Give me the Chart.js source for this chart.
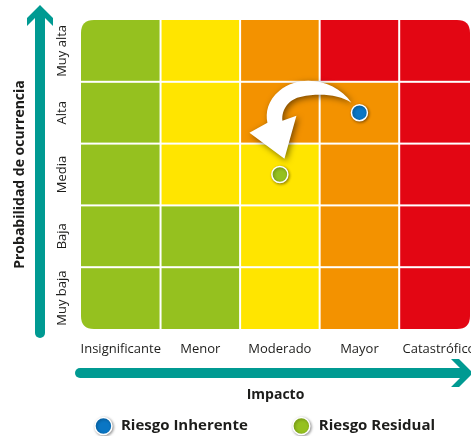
<!DOCTYPE html>
<html lang="es">
<head>
<meta charset="utf-8">
<title>Matriz de riesgo</title>
<script src="https://cdn.jsdelivr.net/npm/chart.js@4.4.1/dist/chart.umd.min.js"></script>
<style>
  html, body { margin: 0; padding: 0; background: #fff; }
  canvas { display: block; }
</style>
</head>
<body>
<canvas id="riskChart" width="471" height="436"></canvas>
<script>
// ============================
// Datos
// ============================
const impactLabels = ["Insignificante", "Menor", "Moderado", "Mayor", "Catastrófico"];
const probLabels = ["Muy baja", "Baja", "Media", "Alta", "Muy alta"];

// nivel de cada celda, filas de abajo (Muy baja) hacia arriba (Muy alta)
const levelRows = [
    [0, 0, 1, 2, 3],
    [0, 0, 1, 2, 3],
    [0, 1, 1, 2, 3],
    [0, 1, 2, 2, 3],
    [0, 1, 2, 3, 3]
];

const inherentRisk = [{ x: 3.5, y: 3.5 }];
const residualRisk = [{ x: 2.5, y: 2.5 }];

// ============================
// Estilos
// ============================
const levelColors = ["#95c11f", "#ffe500", "#f39200", "#e30613"];
const blue = "#0a76c4";
const green = "#95c11f";
const teal = "#009a92";
const textColor = "#1d1d1b";

Chart.defaults.font.family = "'Open Sans', sans-serif";
Chart.defaults.color = textColor;

// ============================
// Plugin: celdas, flechas y leyenda
// ============================
function roundRectPath(ctx, x, y, w, h, r) {
    ctx.beginPath();
    ctx.moveTo(x + r, y);
    ctx.lineTo(x + w - r, y);
    ctx.quadraticCurveTo(x + w, y, x + w, y + r);
    ctx.lineTo(x + w, y + h - r);
    ctx.quadraticCurveTo(x + w, y + h, x + w - r, y + h);
    ctx.lineTo(x + r, y + h);
    ctx.quadraticCurveTo(x, y + h, x, y + h - r);
    ctx.lineTo(x, y + r);
    ctx.quadraticCurveTo(x, y, x + r, y);
    ctx.closePath();
}

const riskMatrix = {
    id: "riskMatrix",
    beforeDatasetsDraw(chart) {
        const { ctx, chartArea: ca, scales: { x, y } } = chart;
        const gap = 1;

        // celdas dentro de un rectángulo redondeado
        ctx.save();
        roundRectPath(ctx, ca.left, ca.top, ca.right - ca.left, ca.bottom - ca.top, 13);
        ctx.clip();
        levelRows.forEach((row, r) => {
            row.forEach((level, c) => {
                const x0 = x.getPixelForValue(c) + (c > 0 ? gap : 0);
                const x1 = x.getPixelForValue(c + 1) - gap;
                const y0 = y.getPixelForValue(r + 1) + (r < 4 ? gap : 0);
                const y1 = y.getPixelForValue(r) - (r > 0 ? gap : 0);
                ctx.fillStyle = levelColors[level];
                ctx.fillRect(x0, y0, x1 - x0, y1 - y0);
            });
        });
        ctx.restore();

        // flecha blanca curva de inherente a residual
        const b = chart.getDatasetMeta(0).data[0];
        const p = (dx, dy) => [b.x + dx, b.y + dy];
        ctx.save();
        ctx.shadowColor = "rgba(0,0,0,0.5)";
        ctx.shadowBlur = 6;
        ctx.shadowOffsetX = 2;
        ctx.shadowOffsetY = 2;
        ctx.fillStyle = "#ffffff";
        ctx.beginPath();
        ctx.moveTo(...p(-8, -10));
        ctx.bezierCurveTo(...p(-23, -32), ...p(-58, -40), ...p(-80, -22));
        ctx.bezierCurveTo(...p(-92, -12), ...p(-94, 0), ...p(-92, 10));
        ctx.lineTo(...p(-110, 20));
        ctx.lineTo(...p(-75, 46));
        ctx.lineTo(...p(-63, 3));
        ctx.lineTo(...p(-77, 8));
        ctx.bezierCurveTo(...p(-78, -4), ...p(-70, -14), ...p(-58, -16));
        ctx.bezierCurveTo(...p(-40, -20), ...p(-20, -18), ...p(-8, -10));
        ctx.closePath();
        ctx.fill();
        ctx.restore();
    },
    beforeDatasetDraw(chart) {
        const ctx = chart.ctx;
        ctx.save();
        ctx.shadowColor = "rgba(0,0,0,0.4)";
        ctx.shadowBlur = 3;
        ctx.shadowOffsetX = 1;
        ctx.shadowOffsetY = 1;
    },
    afterDatasetDraw(chart) {
        chart.ctx.restore();
    },
    afterDraw(chart) {
        const { ctx, chartArea: ca } = chart;

        // ejes con flecha
        ctx.save();
        ctx.fillStyle = teal;
        ctx.strokeStyle = teal;
        ctx.lineCap = "round";
        ctx.lineWidth = 10;

        const vx = ca.left - 41;
        ctx.beginPath();
        ctx.moveTo(vx, ca.bottom + 4);
        ctx.lineTo(vx, ca.top);
        ctx.stroke();
        ctx.beginPath();
        ctx.moveTo(vx, ca.top - 15);
        ctx.lineTo(vx + 13, ca.top - 2);
        ctx.lineTo(vx + 13, ca.top + 6);
        ctx.lineTo(vx + 5, ca.top - 2);
        ctx.lineTo(vx + 5, ca.top + 4);
        ctx.lineTo(vx - 5, ca.top + 4);
        ctx.lineTo(vx - 5, ca.top - 2);
        ctx.lineTo(vx - 13, ca.top + 6);
        ctx.lineTo(vx - 13, ca.top - 2);
        ctx.closePath();
        ctx.fill();

        const hy = ca.bottom + 44;
        const tipX = ca.right + 3;
        ctx.beginPath();
        ctx.moveTo(ca.left - 1, hy);
        ctx.lineTo(tipX - 10, hy);
        ctx.stroke();
        ctx.beginPath();
        ctx.moveTo(tipX, hy);
        ctx.lineTo(tipX - 14, hy - 14);
        ctx.lineTo(tipX - 22, hy - 14);
        ctx.lineTo(tipX - 13, hy - 5);
        ctx.lineTo(tipX - 16, hy - 5);
        ctx.lineTo(tipX - 16, hy + 5);
        ctx.lineTo(tipX - 13, hy + 5);
        ctx.lineTo(tipX - 22, hy + 14);
        ctx.lineTo(tipX - 14, hy + 14);
        ctx.closePath();
        ctx.fill();
        ctx.restore();

        // leyenda
        const items = chart.data.datasets.map(ds => ({ text: ds.label, color: ds.backgroundColor }));
        const ly = chart.height - 10;
        const r = 8.5;
        const itemGap = 45;
        ctx.save();
        ctx.font = "bold 15px 'Open Sans', sans-serif";
        const widths = items.map(it => 2 * r + 9 + ctx.measureText(it.text).width);
        const total = widths.reduce((a, w) => a + w, 0) + itemGap * (items.length - 1);
        let lx = 265 - total / 2;
        items.forEach((it, i) => {
            ctx.save();
            ctx.shadowColor = "rgba(0,0,0,0.4)";
            ctx.shadowBlur = 3;
            ctx.shadowOffsetX = 1;
            ctx.shadowOffsetY = 1;
            ctx.beginPath();
            ctx.arc(lx + r, ly, r, 0, Math.PI * 2);
            ctx.fillStyle = it.color;
            ctx.fill();
            ctx.lineWidth = 1.5;
            ctx.strokeStyle = "#fff";
            ctx.stroke();
            ctx.restore();
            ctx.fillStyle = textColor;
            ctx.textBaseline = "middle";
            ctx.textAlign = "left";
            ctx.fillText(it.text, lx + 2 * r + 9, ly);
            lx += widths[i] + itemGap;
        });
        ctx.restore();
    }
};

// ============================
// Gráfico
// ============================
const ctx = document.getElementById("riskChart").getContext("2d");

new Chart(ctx, {
    type: "scatter",
    data: {
        datasets: [
            {
                label: "Riesgo Inherente",
                data: inherentRisk,
                backgroundColor: blue,
                borderColor: "#ffffff",
                borderWidth: 1.5,
                pointRadius: 8,
                pointHoverRadius: 8
            },
            {
                label: "Riesgo Residual",
                data: residualRisk,
                backgroundColor: green,
                borderColor: "#ffffff",
                borderWidth: 1.5,
                pointRadius: 8,
                pointHoverRadius: 8
            }
        ]
    },
    options: {
        responsive: false,
        animation: false,
        devicePixelRatio: 1,
        layout: { autoPadding: false, padding: { left: 0, top: 20, right: 1, bottom: 32.6 } },
        plugins: {
            legend: { display: false },
            tooltip: { enabled: false }
        },
        scales: {
            x: {
                type: "linear",
                position: "bottom",
                min: 0,
                max: 4.89,
                grid: { display: false, drawTicks: false },
                border: { display: false },
                afterBuildTicks: s => { s.ticks = impactLabels.map((_, i) => ({ value: i + 0.5 })); },
                afterFit: s => { s.paddingLeft = 0; s.paddingRight = 0; },
                ticks: {
                    autoSkip: false,
                    maxRotation: 0,
                    padding: 12,
                    color: textColor,
                    font: { size: 13 },
                    callback: (v, i) => impactLabels[i]
                },
                title: {
                    display: true,
                    text: "Impacto",
                    color: textColor,
                    font: { size: 14, weight: "bold" },
                    padding: { top: 18, bottom: 0 }
                }
            },
            y: {
                type: "linear",
                position: "left",
                min: 0,
                max: 5,
                grid: { display: false, drawTicks: false },
                border: { display: false },
                afterBuildTicks: s => { s.ticks = probLabels.map((_, i) => ({ value: i + 0.5 })); },
                afterFit: s => { s.width = 81; s.paddingTop = 0; s.paddingBottom = 0; },
                ticks: {
                    autoSkip: false,
                    minRotation: 90,
                    maxRotation: 90,
                    crossAlign: "center",
                    padding: -8.5,
                    color: textColor,
                    font: { size: 13 },
                    callback: (v, i) => probLabels[i]
                },
                title: {
                    display: true,
                    text: "Probabilidad de ocurrencia",
                    color: textColor,
                    font: { size: 14, weight: "bold" },
                    padding: { top: 11.6, bottom: 0 }
                }
            }
        }
    },
    plugins: [riskMatrix]
});
</script>
</body>
</html>
